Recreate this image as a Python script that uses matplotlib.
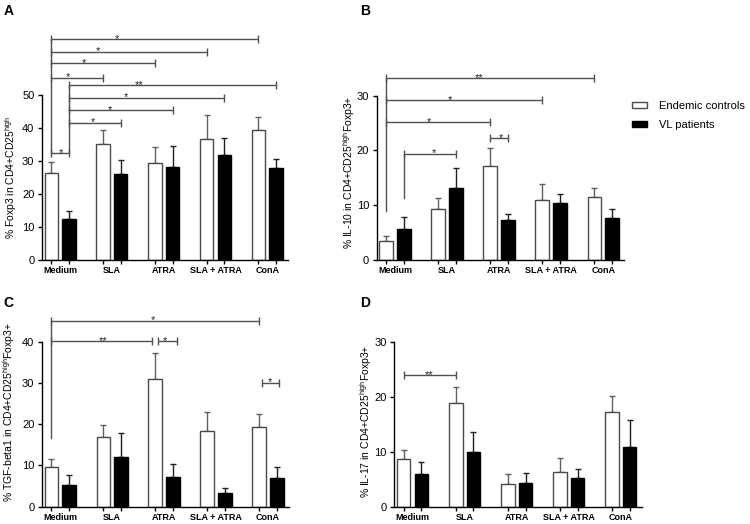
import matplotlib.pyplot as plt
from matplotlib.patches import Patch
from matplotlib.transforms import blended_transform_factory

plt.rcParams['font.family'] = ['Liberation Sans', 'DejaVu Sans']
plt.rcParams['mathtext.fontset'] = 'custom'
plt.rcParams['mathtext.rm'] = 'Liberation Sans'

groups = ['Medium', 'SLA', 'ATRA', 'SLA + ATRA', 'ConA']
series = ['Endemic controls', 'VL patients']

# panel A: % Foxp3 in CD4+CD25high
foxp3_ctrl = [26.4, 35.3, 29.3, 36.7, 39.4]
foxp3_ctrl_err = [3.4, 4.2, 4.8, 7.1, 3.8]
foxp3_vl = [12.4, 26.0, 28.2, 31.9, 27.8]
foxp3_vl_err = [2.6, 4.3, 6.2, 5.2, 2.9]

# panel B: % IL-10
il10_ctrl = [3.5, 9.3, 17.1, 11.0, 11.5]
il10_ctrl_err = [0.9, 2.1, 3.4, 2.9, 1.7]
il10_vl = [5.6, 13.2, 7.3, 10.4, 7.7]
il10_vl_err = [2.3, 3.6, 1.1, 1.7, 1.7]

# panel C: % TGF-beta1
tgf_ctrl = [9.6, 17.0, 31.0, 18.4, 19.3]
tgf_ctrl_err = [2.0, 2.9, 6.3, 4.6, 3.2]
tgf_vl = [5.3, 12.0, 7.1, 3.4, 6.9]
tgf_vl_err = [2.5, 5.8, 3.3, 1.2, 2.8]

# panel D: % IL-17
il17_ctrl = [8.7, 18.9, 4.1, 6.4, 17.3]
il17_ctrl_err = [1.7, 2.9, 1.8, 2.5, 2.9]
il17_vl = [5.9, 9.9, 4.4, 5.2, 10.9]
il17_vl_err = [2.3, 3.7, 1.8, 1.6, 4.9]

# significance brackets: (group, series) -> (group, series), height, stars, star x, end nudges
brackets_a = [((0, 0), (4, 0), 66.9, '*', 1.10, (0, 0)),
              ((0, 0), (3, 0), 63.1, '*', 0.74, (0, 0)),
              ((0, 0), (2, 0), 59.6, '*', 0.47, (0, 0)),
              ((0, 0), (1, 0), 55.3, '*', 0.16, (0, 0)),
              ((0, 1), (4, 1), 53.0, '**', 1.53, (0, 0)),
              ((0, 1), (3, 1), 49.2, '*', 1.28, (0, 0)),
              ((0, 1), (2, 1), 45.4, '*', 0.97, (0, 0)),
              ((0, 1), (1, 1), 41.6, '*', 0.64, (0, 0)),
              ((0, 0), (0, 1), 32.3, '*', 0.02, (0, 0))]
stems_a = [((0, 0), 66.9, 32.3), ((0, 1), 53.0, 32.3)]

brackets_b = [((0, 0), (4, 0), 33.2, '**', 1.62, (0, 0)),
              ((0, 0), (3, 0), 29.2, '*', 1.06, (0, 0)),
              ((0, 0), (2, 0), 25.2, '*', 0.65, (0, 0)),
              ((2, 0), (2, 1), 22.3, '*', 2.04, (0, 0)),
              ((0, 1), (1, 1), 19.4, '*', 0.75, (0, 0))]
stems_b = [((0, 0), 33.2, 9.0), ((0, 1), 19.4, 11.4)]

brackets_c = [((0, 0), (4, 0), 45.1, '*', 1.79, (0, 0)),
              ((0, 0), (2, 0), 40.2, '**', 0.82, (0, -0.06)),
              ((2, 0), (2, 1), 40.2, '*', 2.02, (0.05, 0.07)),
              ((4, 0), (4, 1), 30.1, '*', 4.03, (0.05, 0.05))]
stems_c = [((0, 0), 45.1, 16.6)]

brackets_d = [((0, 0), (1, 0), 23.9, '**', 0.32, (0, 0))]
stems_d = []

W, H = 750, 524
fig = plt.figure(figsize=(W / 100, H / 100), dpi=100)

line_col = '#505050'
off = 0.17
bw = 0.26


def bx(g, s):
    return g - off if s == 0 else g + off


def panel(rect, ctrl, ctrl_err, vl, vl_err, top, spine_top, ylabel, label_xy,
          brackets, stems):
    left, y0, width, scale = rect
    height = top * scale
    ax = fig.add_axes([left / W, (H - y0) / H, width / W, height / H])
    xs_c = [bx(g, 0) for g in range(len(groups))]
    xs_v = [bx(g, 1) for g in range(len(groups))]
    ax.errorbar(xs_c, ctrl, yerr=[[0] * 5, ctrl_err], fmt='none', ecolor='#606060',
                elinewidth=1, capsize=2.5, capthick=1, zorder=1)
    ax.errorbar(xs_v, vl, yerr=[[0] * 5, vl_err], fmt='none', ecolor='#202020',
                elinewidth=1, capsize=2.5, capthick=1, zorder=1)
    ax.bar(xs_c, ctrl, width=bw, color='white', edgecolor='#4a4a4a', linewidth=1, zorder=2)
    ax.bar(xs_v, vl, width=bw, color='black', edgecolor='black', linewidth=1, zorder=2)

    for (a, b, y, stars, sx, nudge) in brackets:
        x1 = bx(*a) + nudge[0]
        x2 = bx(*b) + nudge[1]
        ax.plot([x1, x2], [y, y], color=line_col, lw=1, marker='|', markersize=6,
                markeredgewidth=1, solid_capstyle='butt', zorder=3)
        ax.annotate(stars, (sx, y), xytext=(0, -2.0), textcoords='offset points',
                    ha='center', va='baseline', fontsize=8, color='#222222')
    for (a, ytop, ybot) in stems:
        ax.plot([bx(*a), bx(*a)], [ytop, ybot], color=line_col, lw=1, zorder=3)

    ax.set_xlim(-0.35, 4.40)
    ax.set_ylim(0, top)
    for s in ['top', 'right']:
        ax.spines[s].set_visible(False)
    ax.spines['left'].set_bounds(0, spine_top)
    ax.spines['left'].set_linewidth(1)
    ax.spines['bottom'].set_linewidth(1)
    ax.set_yticks(range(0, spine_top + 1, 10))
    ax.tick_params(axis='y', direction='out', length=3, width=1, labelsize=8, pad=2.5)
    ax.set_xticks(sorted(xs_c + xs_v))
    ax.set_xticklabels([])
    ax.tick_params(axis='x', which='major', direction='out', length=3, width=1)
    ax.set_xticks(range(len(groups)), minor=True)
    ax.set_xticklabels(groups, minor=True, fontsize=6.5, fontweight='bold')
    ax.tick_params(axis='x', which='minor', length=0, pad=4.5)
    ax.set_ylabel(ylabel, fontsize=7.5, va='center')
    tr = blended_transform_factory(ax.transAxes, ax.transData)
    ax.yaxis.set_label_coords(label_xy[0], label_xy[1], transform=tr)
    return ax


panel((42, 260, 246, 3.3), foxp3_ctrl, foxp3_ctrl_err, foxp3_vl, foxp3_vl_err,
      69, 50, r'% Foxp3 in CD4+CD25$^{\mathregular{high}}$', (-0.126, 25),
      brackets_a, stems_a)
panel((376.7, 260, 247.3, 5.477), il10_ctrl, il10_ctrl_err, il10_vl, il10_vl_err,
      35, 30, r'% IL-10 in CD4+CD25$^{\mathregular{high}}$Foxp3+', (-0.11, 16),
      brackets_b, stems_b)
panel((42, 506.7, 246.7, 4.125), tgf_ctrl, tgf_ctrl_err, tgf_vl, tgf_vl_err,
      47, 40, r'% TGF-beta1 in CD4+CD25$^{\mathregular{high}}$Foxp3+', (-0.134, 23),
      brackets_c, stems_c)
panel((394.3, 506.7, 247.4, 5.5), il17_ctrl, il17_ctrl_err, il17_vl, il17_vl_err,
      31, 30, r'% IL-17 in CD4+CD25$^{\mathregular{high}}$Foxp3+', (-0.116, 15.5),
      brackets_d, stems_d)

for letter, (px, py) in zip('ABCD', [(4, 4), (360, 4), (3, 296), (360, 296)]):
    fig.text(px / W, 1 - py / H, letter, fontsize=10, fontweight='bold',
             ha='left', va='top')

handles = [Patch(facecolor='white', edgecolor='#4a4a4a', linewidth=1),
           Patch(facecolor='black', edgecolor='black', linewidth=1)]
fig.legend(handles, series, loc='upper left', bbox_to_anchor=(631.7 / W, 1 - 101 / H),
           frameon=False, fontsize=8, handlelength=1.35, handleheight=0.45,
           handletextpad=1.1, labelspacing=0.8, borderpad=0, borderaxespad=0)

fig.savefig('out.png', dpi=100)
